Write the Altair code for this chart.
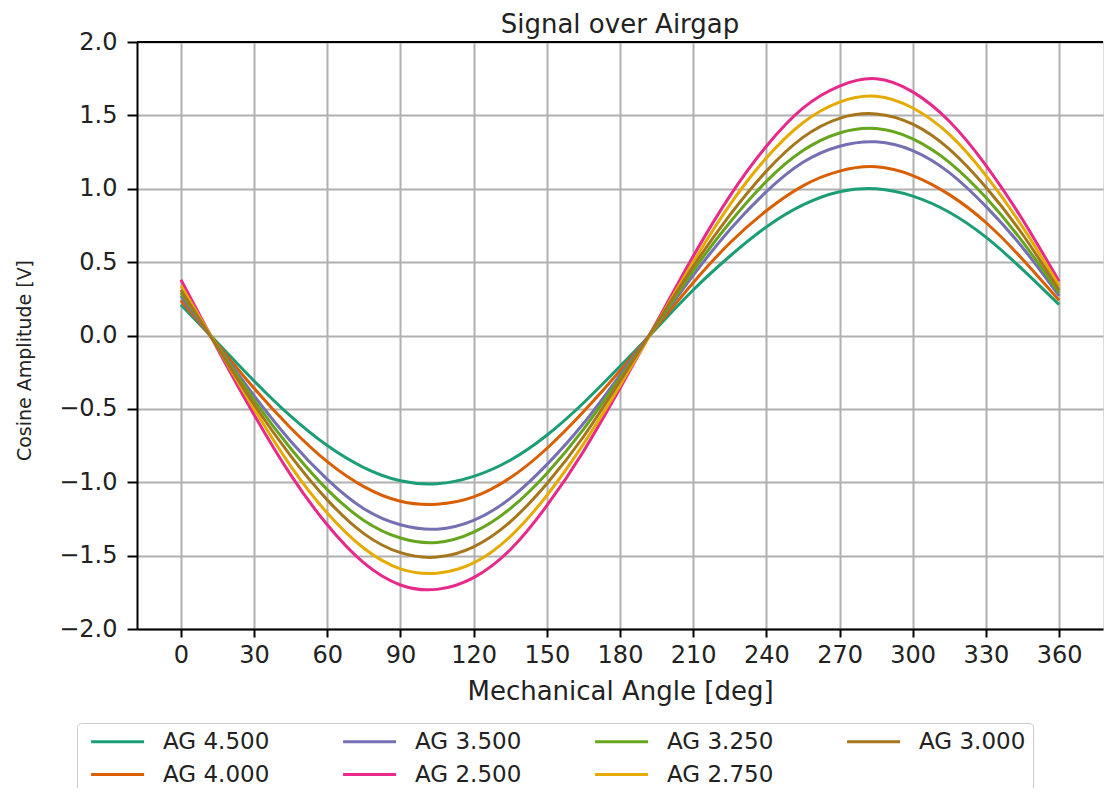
import altair as alt
import pandas as pd

angles = [0, 15, 30, 45, 60, 75, 90, 105, 120, 135, 150, 165, 180,
          195, 210, 225, 240, 255, 270, 285, 300, 315, 330, 345, 360]

ag_4500 = [0.21, -0.05, -0.31, -0.55, -0.75, -0.90, -0.99, -1.01, -0.96, -0.85, -0.68, -0.46, -0.21,
           0.05, 0.31, 0.54, 0.74, 0.89, 0.98, 1.00, 0.95, 0.84, 0.67, 0.45, 0.21]
ag_4000 = [0.24, -0.06, -0.36, -0.63, -0.86, -1.03, -1.13, -1.15, -1.10, -0.97, -0.77, -0.52, -0.24,
           0.06, 0.36, 0.63, 0.85, 1.02, 1.12, 1.15, 1.09, 0.96, 0.77, 0.52, 0.24]
ag_3500 = [0.27, -0.07, -0.41, -0.72, -0.98, -1.18, -1.29, -1.32, -1.26, -1.11, -0.88, -0.60, -0.27,
           0.07, 0.41, 0.72, 0.98, 1.18, 1.29, 1.32, 1.26, 1.11, 0.88, 0.60, 0.27]
ag_3250 = [0.29, -0.07, -0.44, -0.77, -1.05, -1.26, -1.38, -1.41, -1.34, -1.18, -0.94, -0.64, -0.29,
           0.07, 0.44, 0.77, 1.05, 1.26, 1.38, 1.41, 1.34, 1.18, 0.94, 0.64, 0.29]
ag_3000 = [0.31, -0.08, -0.47, -0.82, -1.12, -1.35, -1.48, -1.51, -1.44, -1.27, -1.01, -0.69, -0.31,
           0.08, 0.47, 0.82, 1.12, 1.35, 1.48, 1.51, 1.44, 1.27, 1.01, 0.69, 0.31]
ag_2750 = [0.34, -0.08, -0.50, -0.89, -1.21, -1.45, -1.59, -1.62, -1.55, -1.37, -1.09, -0.74, -0.34,
           0.08, 0.50, 0.89, 1.21, 1.45, 1.59, 1.63, 1.55, 1.37, 1.09, 0.74, 0.34]
ag_2500 = [0.38, -0.09, -0.54, -0.95, -1.29, -1.55, -1.70, -1.73, -1.65, -1.46, -1.16, -0.79, -0.36,
           0.09, 0.54, 0.95, 1.29, 1.55, 1.70, 1.75, 1.66, 1.46, 1.16, 0.79, 0.37]

series_names = ["AG 4.500", "AG 4.000", "AG 3.500", "AG 2.500", "AG 3.250", "AG 2.750", "AG 3.000"]
series_values = [ag_4500, ag_4000, ag_3500, ag_2500, ag_3250, ag_2750, ag_3000]
series_colors = ["#1b9e77", "#d95f02", "#7570b3", "#e7298a", "#66a61e", "#e6ab02", "#a6761d"]

# legend (row-wise) order to mimic matplotlib's column-wise fill
legend_order = ["AG 4.500", "AG 3.500", "AG 3.250", "AG 3.000", "AG 4.000", "AG 2.500", "AG 2.750"]
legend_colors = [series_colors[series_names.index(n)] for n in legend_order]

x_ticks = [0, 30, 60, 90, 120, 150, 180, 210, 240, 270, 300, 330, 360]
y_ticks = [-2.0, -1.5, -1.0, -0.5, 0.0, 0.5, 1.0, 1.5, 2.0]

rows = []
for name, vals in zip(series_names, series_values):
    for a, v in zip(angles, vals):
        rows.append({"angle": a, "value": v, "series": name})
df = pd.DataFrame(rows)

FONT = "DejaVu Sans"
TXT = "#222222"

x_enc = alt.X("angle:Q",
              scale=alt.Scale(domain=[-18, 378], nice=False, zero=False),
              axis=alt.Axis(values=x_ticks, title="Mechanical Angle [deg]",
                            grid=True, gridColor="#b0b0b0", gridWidth=2,
                            domainColor="black", domainWidth=2,
                            tickColor="black", tickWidth=2, tickSize=8,
                            labelFontSize=24, labelColor=TXT, labelPadding=6,
                            titleFontSize=26, titleFontWeight="normal", titleColor=TXT,
                            titlePadding=11, labelFont=FONT, titleFont=FONT))
y_enc = alt.Y("value:Q",
              scale=alt.Scale(domain=[-2, 2], nice=False, zero=False),
              axis=alt.Axis(values=y_ticks, format=".1f", title="Cosine Amplitude [V]",
                            grid=True, gridColor="#b0b0b0", gridWidth=2,
                            domainColor="black", domainWidth=2,
                            tickColor="black", tickWidth=2, tickSize=10,
                            labelFontSize=24, labelColor=TXT, labelPadding=10,
                            titleFontSize=19, titleFontWeight="normal", titleColor=TXT,
                            titleX=-103, titleY=318, titleAngle=270, titleBaseline="bottom",
                            titleAlign="center",
                            labelFont=FONT, titleFont=FONT))

lines = alt.Chart(df).mark_line(strokeWidth=3, interpolate="natural", clip=True).encode(
    x=x_enc,
    y=y_enc,
    color=alt.Color("series:N",
                    scale=alt.Scale(domain=legend_order, range=legend_colors),
                    legend=alt.Legend(title=None, orient="none", legendX=-60, legendY=681,
                                      columns=4, direction="horizontal",
                                      symbolType="M-1,0H11", symbolSize=78, symbolStrokeWidth=3,
                                      labelFontSize=23, labelFont=FONT, labelColor=TXT,
                                      labelOffset=56, columnPadding=66, rowPadding=9,
                                      padding=7, strokeColor="#cccccc", fillColor="white",
                                      cornerRadius=4, labelLimit=300)),
)

top = alt.Chart(pd.DataFrame({"y": [2.0]})).mark_rule(color="black", strokeWidth=2).encode(
    y=alt.Y("y:Q")
)

chart = alt.layer(lines, top).properties(
    width=966,
    height=587,
    title=alt.Title("Signal over Airgap", fontSize=26, font=FONT, fontWeight="normal",
                    color=TXT, offset=0, dy=8),
    autosize=alt.AutoSizeParams(type="none"),
    padding={"left": 129, "top": 34, "right": 1, "bottom": 159},
).configure_view(stroke=None).configure(background="white")

chart.save("out.html", embed_options={"renderer": "svg", "actions": False})
